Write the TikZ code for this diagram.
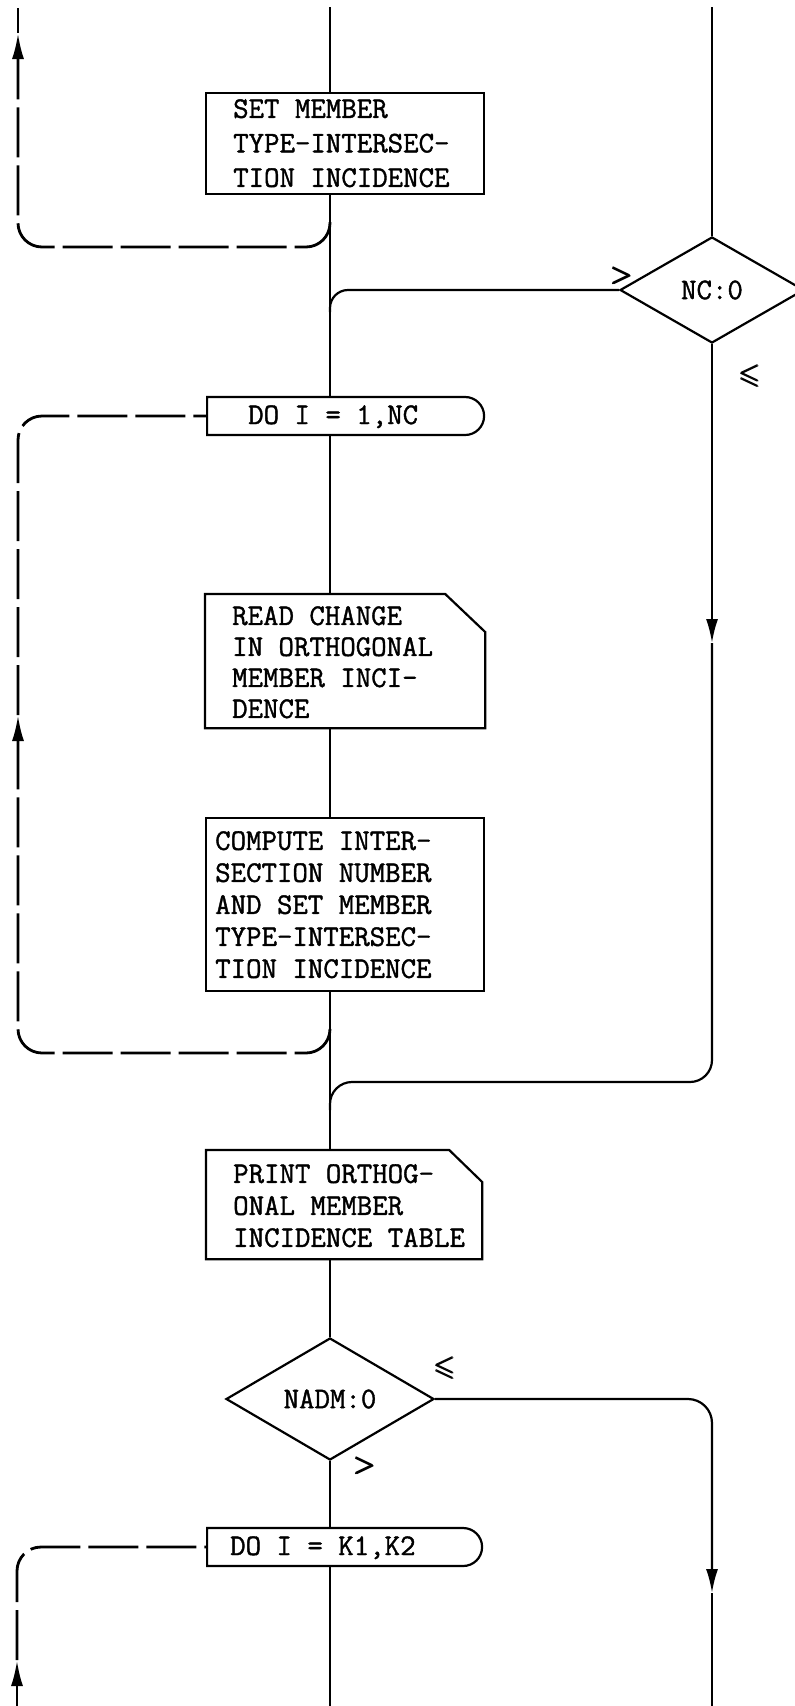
\documentclass[tikz,border=0pt]{standalone}
\usepackage{amsmath,amssymb}
\usepackage{fontspec}
\newfontfamily\flowtt{Latin Modern Mono}[FakeBold=1.3]
\usepackage{tikz}
\usetikzlibrary{arrows.meta,positioning,calc,shapes.geometric,shapes.misc}

\tikzset{
  flow/.style={line width=2.2pt},
  flowarrow/.style={flow,-{Latex[length=24pt,width=12pt]}},
  loopline/.style={line width=2.8pt,dash pattern=on 50pt off 8pt,rounded corners=24pt},
  looparrow/.style={loopline,-{Latex[length=26pt,width=12pt]}},
  procbox/.style={line width=2.2pt,rectangle,inner sep=0pt,anchor=north west},
  dobox/.style={draw,line width=2.2pt,rounded rectangle,rounded rectangle left arc=none,
    inner sep=0pt,minimum height=38pt,anchor=west},
  decision/.style={draw,line width=2.2pt,diamond,inner sep=0pt,
    font=\flowtt\fontsize{30}{32}\selectfont},
  boxtext/.style={inner sep=0pt,align=left,anchor=north west,
    font=\flowtt\fontsize{30}{32}\selectfont},
  cond/.style={inner sep=0pt,font=\boldmath\fontsize{28}{28}\selectfont},
}

\begin{document}
\begin{tikzpicture}[x=1pt,y=-1pt]
  \useasboundingbox (0,0) rectangle (795,1706);
  \clip (0,0) rectangle (795,1706);
  \fill[white] (0,0) rectangle (795,1706);

  % boxes on the main line
  \node[procbox,draw,minimum width=278pt,minimum height=101pt] (setbox) at (205,92) {};
  \node[dobox,minimum width=277pt] (do1) at (206,416) {};
  \node[procbox,minimum width=278pt,minimum height=132pt] (readbox) at (205,594) {};
  \draw[flow] (readbox.south west) |- ([xshift=-40pt]readbox.north east)
    -- ([yshift=-38pt]readbox.north east) -- (readbox.south east) -- cycle;
  \node[procbox,draw,minimum width=278pt,minimum height=173pt] (compbox) at (205,817) {};
  \node[procbox,minimum width=274pt,minimum height=107pt] (printbox) at (206,1150) {};
  \draw[flow] (printbox.south west) |- ([xshift=-33pt]printbox.north east)
    -- ([yshift=-32pt]printbox.north east) -- (printbox.south east) -- cycle;
  \node[decision,minimum width=208pt,minimum height=122pt] (nadm) at (330,1399) {NADM:0};
  \node[dobox,minimum width=275pt] (do2) at (206,1547) {};
  \node[decision,minimum width=184pt,minimum height=106pt] (nc) at (712,290) {NC:0};

  % texts
  \node[boxtext,font=\flowtt\fontsize{30}{34.5}\selectfont] (settxt) at (233,99)
    {SET MEMBER\\TYPE-INTERSEC-\\TION INCIDENCE};
  \node[boxtext,font=\flowtt\fontsize{30}{31}\selectfont] (readtxt) at (232,606)
    {READ CHANGE\\IN ORTHOGONAL\\MEMBER INCI-\\DENCE};
  \node[boxtext] (comptxt) at (215,831)
    {COMPUTE INTER-\\SECTION NUMBER\\AND SET MEMBER\\TYPE-INTERSEC-\\TION INCIDENCE};
  \node[boxtext] (printtxt) at (233,1164)
    {PRINT ORTHOG-\\ONAL MEMBER\\INCIDENCE TABLE};
  \node[boxtext,anchor=base west] (do1txt) at (248,424) {DO I = 1,NC};
  \node[boxtext,anchor=base west] (do2txt) at (230,1555) {DO I = K1,K2};

  % branch marks
  \node[cond] (ncgt) at (622,276) {$\pmb{>}$};
  \node[cond] (ncle) at (750,376) {$\pmb{\leqslant}$};
  \node[cond] (nadmle) at (445,1368) {$\pmb{\leqslant}$};
  \node[cond] (nadmgt) at (365,1466) {$\pmb{>}$};

  % main line
  \coordinate (top) at (330,7);
  \coordinate (bottom) at (330,1712);
  \draw[flow] (top) -- (top |- setbox.north);
  \foreach \a/\b in {setbox/do1,do1/readbox,readbox/compbox,compbox/printbox}
    \draw[flow] (top |- \a.south) -- (top |- \b.north);
  \draw[flow] (top |- printbox.south) -- (nadm.north);
  \draw[flow] (nadm.south) -- (top |- do2.north);
  \draw[flow] (top |- do2.south) -- (bottom);

  % right column
  \coordinate (ncin) at (712,7);
  \coordinate (join1) at (330,312);
  \coordinate (ncarrow) at (712,643);
  \coordinate (join2) at (330,1082);
  \draw[flow] (ncin) -- (nc.north);
  \draw[flow,rounded corners=18pt] (nc.west) -| (join1);
  \draw[flowarrow] (nc.south) -- (ncarrow);
  \draw[flow,rounded corners=22pt] (ncarrow) |- (join2) -- ++(0,28);

  \coordinate (nadmarrow) at (712,1593);
  \coordinate (rbottom) at (712,1712);
  \draw[flowarrow,rounded corners=24pt] (nadm.east) -| (nadmarrow);
  \draw[flow] (nadmarrow) -- (rbottom);

  % dashed loop returns
  \coordinate (merge1) at (330,222);
  \coordinate (corner1) at (18,247);
  \coordinate (arrow1) at (18,33);
  \coordinate (end1) at (18,8);
  \draw[looparrow] (merge1) |- (corner1) -- (arrow1);
  \draw[loopline] (arrow1) -- (end1);

  \coordinate (merge2) at (330,1030);
  \coordinate (corner2) at (18,1053);
  \coordinate (arrow2) at (18,715);
  \draw[looparrow] (merge2) |- (corner2) -- (arrow2);
  \draw[loopline] (arrow2) |- (do1.west);

  \coordinate (start3) at (17,1712);
  \coordinate (arrow3) at (17,1660);
  \draw[looparrow] (start3) -- (arrow3);
  \draw[loopline] (arrow3) |- (do2.west);
\end{tikzpicture}
\end{document}
